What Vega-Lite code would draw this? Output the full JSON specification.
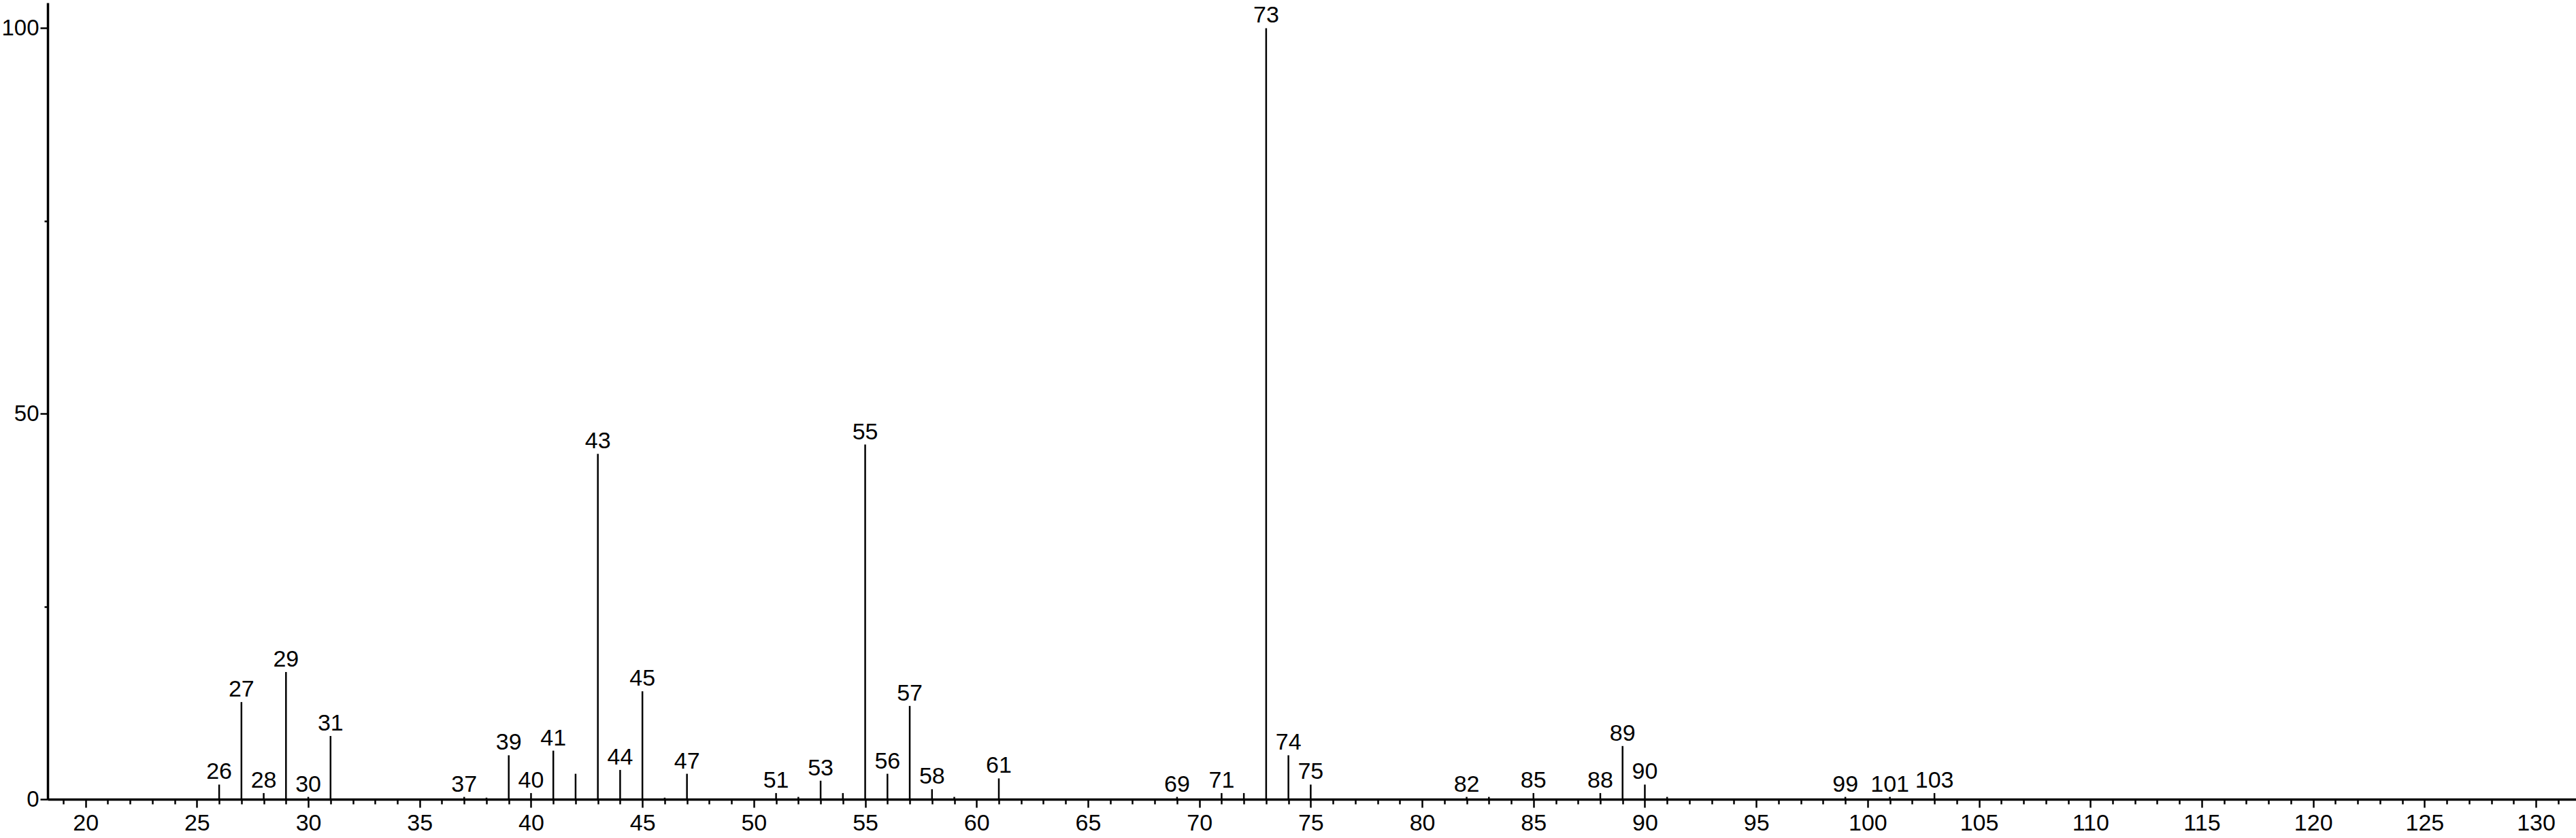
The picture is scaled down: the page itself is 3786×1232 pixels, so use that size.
{
  "$schema": "https://vega.github.io/schema/vega-lite/v6.json",
  "autosize": {"type": "none"},
  "padding": {"left": 70, "top": 4, "right": 0, "bottom": 57},
  "width": 3716,
  "height": 1171,
  "background": "white",
  "config": {"view": {"stroke": null}},
  "data": {"values": [
    {"mz": 26, "i": 1.9, "lbl": "26"},
    {"mz": 27, "i": 12.6, "lbl": "27"},
    {"mz": 28, "i": 0.8, "lbl": "28"},
    {"mz": 29, "i": 16.5, "lbl": "29"},
    {"mz": 30, "i": 0.3, "lbl": "30"},
    {"mz": 31, "i": 8.2, "lbl": "31"},
    {"mz": 37, "i": 0.3, "lbl": "37"},
    {"mz": 38, "i": 0.2, "lbl": ""},
    {"mz": 39, "i": 5.7, "lbl": "39"},
    {"mz": 40, "i": 0.8, "lbl": "40"},
    {"mz": 41, "i": 6.3, "lbl": "41"},
    {"mz": 42, "i": 3.3, "lbl": ""},
    {"mz": 43, "i": 44.8, "lbl": "43"},
    {"mz": 44, "i": 3.8, "lbl": "44"},
    {"mz": 45, "i": 14.0, "lbl": "45"},
    {"mz": 46, "i": 0.2, "lbl": ""},
    {"mz": 47, "i": 3.3, "lbl": "47"},
    {"mz": 51, "i": 0.8, "lbl": "51"},
    {"mz": 52, "i": 0.3, "lbl": ""},
    {"mz": 53, "i": 2.4, "lbl": "53"},
    {"mz": 54, "i": 0.8, "lbl": ""},
    {"mz": 55, "i": 46.0, "lbl": "55"},
    {"mz": 56, "i": 3.3, "lbl": "56"},
    {"mz": 57, "i": 12.1, "lbl": "57"},
    {"mz": 58, "i": 1.3, "lbl": "58"},
    {"mz": 59, "i": 0.3, "lbl": ""},
    {"mz": 61, "i": 2.7, "lbl": "61"},
    {"mz": 69, "i": 0.3, "lbl": "69"},
    {"mz": 71, "i": 0.8, "lbl": "71"},
    {"mz": 72, "i": 0.8, "lbl": ""},
    {"mz": 73, "i": 100, "lbl": "73"},
    {"mz": 74, "i": 5.7, "lbl": "74"},
    {"mz": 75, "i": 1.9, "lbl": "75"},
    {"mz": 82, "i": 0.3, "lbl": "82"},
    {"mz": 83, "i": 0.3, "lbl": ""},
    {"mz": 85, "i": 0.8, "lbl": "85"},
    {"mz": 88, "i": 0.8, "lbl": "88"},
    {"mz": 89, "i": 6.9, "lbl": "89"},
    {"mz": 90, "i": 1.9, "lbl": "90"},
    {"mz": 91, "i": 0.3, "lbl": ""},
    {"mz": 99, "i": 0.3, "lbl": "99"},
    {"mz": 101, "i": 0.3, "lbl": "101"},
    {"mz": 103, "i": 0.8, "lbl": "103"}
  ]},
  "resolve": {"axis": {"x": "independent", "y": "independent"}},
  "layer": [
    {
      "mark": {"type": "rule", "color": "black", "strokeWidth": 2.5},
      "encoding": {
        "x": {"field": "mz", "type": "quantitative",
              "scale": {"domain": [18.3, 131.8], "nice": false, "zero": false},
              "axis": {"orient": "bottom", "values": [20,25,30,35,40,45,50,55,60,65,70,75,80,85,90,95,100,105,110,115,120,125,130],
                       "title": null, "grid": false, "domainColor": "black", "domainWidth": 3.5,
                       "tickColor": "black", "tickWidth": 2.5, "tickSize": 12,
                       "labelFont": "Liberation Sans", "labelFontSize": 34, "labelColor": "black",
                       "labelPadding": 6, "labelFlush": false}},
        "y": {"field": "i", "type": "quantitative",
              "scale": {"domain": [0, 103.3], "nice": false},
              "axis": {"orient": "left", "values": [0, 50, 100], "title": null, "grid": false,
                       "domainColor": "black", "domainWidth": 3.5,
                       "tickColor": "black", "tickWidth": 2.5, "tickSize": 11,
                       "labelFont": "Liberation Sans", "labelFontSize": 33, "labelColor": "black",
                       "labelPadding": 2, "labelFlush": false}},
        "y2": {"datum": 0}
      }
    },
    {
      "transform": [{"filter": "datum.lbl != ''"}],
      "mark": {"type": "text", "color": "black", "font": "Liberation Sans", "fontSize": 34,
               "baseline": "alphabetic", "align": "center", "dy": -8},
      "encoding": {
        "x": {"field": "mz", "type": "quantitative",
              "axis": {"orient": "bottom", "values": [19,21,22,23,24,26,27,28,29,31,32,33,34,36,37,38,39,41,42,43,44,46,47,48,49,51,52,53,54,56,57,58,59,61,62,63,64,66,67,68,69,71,72,73,74,76,77,78,79,81,82,83,84,86,87,88,89,91,92,93,94,96,97,98,99,101,102,103,104,106,107,108,109,111,112,113,114,116,117,118,119,121,122,123,124,126,127,128,129,131],
                       "title": null, "grid": false, "domain": false, "labels": false,
                       "tickColor": "black", "tickWidth": 2.5, "tickSize": 7}},
        "y": {"field": "i", "type": "quantitative",
              "axis": {"orient": "left", "values": [25, 75], "title": null, "grid": false, "domain": false, "labels": false,
                       "tickColor": "black", "tickWidth": 2.5, "tickSize": 5}},
        "text": {"field": "lbl"}
      }
    }
  ]
}
